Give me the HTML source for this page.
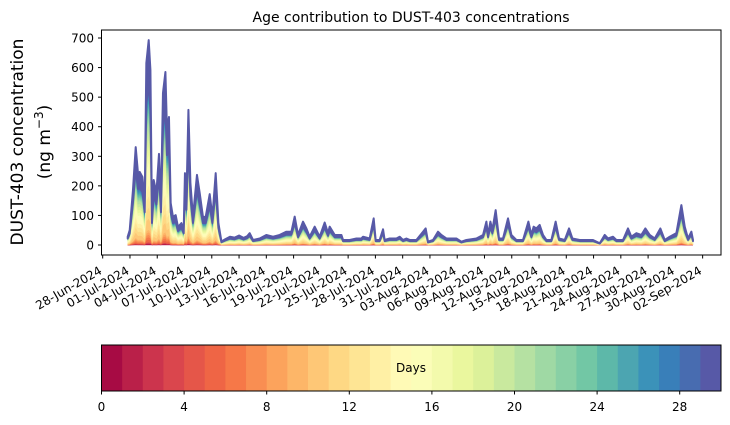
<!DOCTYPE html>
<html><head><meta charset="utf-8"><style>
body{margin:0;background:#fff;}
svg{display:block;font-family:"DejaVu Sans","Liberation Sans",sans-serif;}
</style></head><body>
<svg id="chart" width="730" height="425" viewBox="0 0 730 425">
<text x="411" y="22" text-anchor="middle" font-size="14">Age contribution to DUST-403 concentrations</text>
<g>
<text transform="translate(23,142) rotate(-90)" text-anchor="middle" font-size="17">DUST-403 concentration</text>
<text transform="translate(50,142) rotate(-90)" text-anchor="middle" font-size="17">(ng m<tspan dy="-7" font-size="12">−3</tspan><tspan dy="7">)</tspan></text>
</g>
<g id="areas"></g>
<g id="yaxis"></g>
<g id="xaxis"></g>
<rect x="101.5" y="30" width="619.5" height="225" fill="none" stroke="#000" stroke-width="1"/>
<g id="cbar"></g>
</svg>
<script>
// days since 28-Jun-2024
const times = [2.75,2.97,3.33,3.63,3.88,4.07,4.37,4.62,4.80,5.06,5.25,5.42,5.61,5.91,6.19,6.41,6.63,6.90,7.07,7.29,7.48,7.73,8.03,8.28,8.66,8.91,9.05,9.21,9.43,9.65,9.93,10.37,10.67,11.03,11.33,11.77,12.07,12.43,12.73,13.06,
13.5,14.0,14.5,15.0,15.5,15.9,
16.17,16.54,17.27,18.0,18.74,19.47,20.21,20.76,21.12,21.49,22.04,22.41,22.77,23.32,23.87,24.42,24.79,24.97,25.52,26.26,26.44,27.17,27.91,28.46,28.64,29.37,29.81,30.03,30.47,30.84,31.02,31.57,32.31,32.67,33.04,33.41,33.77,34.51,35.24,35.53,35.79,36.34,36.89,37.26,37.81,38.91,39.46,40.01,41.11,41.84,42.21,42.39,42.65,42.87,43.23,43.6,44.04,44.59,44.96,45.51,46.24,46.83,47.16,47.41,47.71,48.07,48.44,48.81,49.36,49.83,50.2,50.83,51.3,51.67,52.48,53.21,53.94,54.68,55.23,55.59,56.14,56.51,57.24,57.79,58.16,58.71,59.26,59.7,60.18,60.73,61.35,61.83,62.38,63.11,63.66,64.03,64.39,64.76,64.94];
const totals = [28,50,186,331,243,247,230,142,615,693,592,95,220,176,308,142,514,585,389,433,142,95,101,61,74,51,243,152,457,210,95,237,176,95,95,172,95,243,74,12,
20,28,25,32,24,30,
40,17,22,34,28,34,45,45,96,34,79,56,28,62,28,76,40,62,34,34,17,17,22,22,28,22,90,17,17,53,17,22,22,28,17,22,17,17,45,56,11,17,45,34,22,22,11,17,22,34,79,34,79,51,118,22,22,90,34,17,17,79,34,62,56,68,34,17,17,79,22,17,56,22,17,17,17,6,34,22,28,17,17,56,28,40,34,56,34,22,56,17,28,40,135,62,22,45,17];
const bandFractions = [0.003,0.003,0.003,0.003,0.003,0.012,0.012,0.012,0.012,0.012,0.055,0.055,0.055,0.055,0.055,0.055,0.04,0.04,0.04,0.04,0.04,0.022,0.022,0.022,0.022,0.022,0.022,0.022,0.022,0.219];
const yTicks = [0,100,200,300,400,500,600,700];
const xTickLabels = ["28-Jun-2024","01-Jul-2024","04-Jul-2024","07-Jul-2024","10-Jul-2024","13-Jul-2024","16-Jul-2024","19-Jul-2024","22-Jul-2024","25-Jul-2024","28-Jul-2024","31-Jul-2024","03-Aug-2024","06-Aug-2024","09-Aug-2024","12-Aug-2024","15-Aug-2024","18-Aug-2024","21-Aug-2024","24-Aug-2024","27-Aug-2024","30-Aug-2024","02-Sep-2024"];
const cbarTicks = [0,4,8,12,16,20,24,28];

const NS="http://www.w3.org/2000/svg";
const n = Math.min(times.length, totals.length);
const xS = d => 102.7 + d*9.09;
const yS = v => 245 - v*0.2957;
const spec = ["#9e0142","#d53e4f","#f46d43","#fdae61","#fee08b","#ffffbf","#e6f598","#abdda4","#66c2a5","#3288bd","#5e4fa2"];
function cmap(t){const p=t*10,i=Math.min(9,Math.floor(p)),f=p-i;
 const a=spec[i],b=spec[i+1];const c=k=>Math.round(parseInt(a.substr(k,2),16)*(1-f)+parseInt(b.substr(k,2),16)*f);
 return `rgb(${c(1)},${c(3)},${c(5)})`;}
function mk(tag,attrs,parent){const e=document.createElementNS(NS,tag);for(const k in attrs)e.setAttribute(k,attrs[k]);parent.appendChild(e);return e;}

const areas=document.getElementById('areas');
let lower=new Array(n).fill(0);
bandFractions.forEach((fr,b)=>{
  const upper=lower.map((l,i)=>l+totals[i]*fr);
  let d='';
  for(let i=0;i<n;i++) d+=(i?'L':'M')+xS(times[i]).toFixed(2)+','+yS(upper[i]).toFixed(2);
  for(let i=n-1;i>=0;i--) d+='L'+xS(times[i]).toFixed(2)+','+yS(lower[i]).toFixed(2);
  const p=mk('path',{d:d+'Z',fill:cmap((b+0.5)/30),stroke:cmap((b+0.5)/30),'stroke-width':b===29?2:0.4,'stroke-linejoin':'round'},areas);
  
  
  lower=upper;
});

const ya=document.getElementById('yaxis');
yTicks.forEach(v=>{
  mk('line',{x1:98,x2:101.5,y1:yS(v),y2:yS(v),stroke:'#000'},ya);
  const t=mk('text',{x:94,y:yS(v)+4.5,'text-anchor':'end','font-size':12},ya);t.textContent=v;
  
  
});
const xa=document.getElementById('xaxis');
xTickLabels.forEach((lab,i)=>{
  const x=xS(i*3);
  mk('line',{x1:x,x2:x,y1:255,y2:258.5,stroke:'#000'},xa);
  const t=mk('text',{transform:`translate(${x},273) rotate(-30)`,'text-anchor':'end','font-size':12},xa);t.textContent=lab;
  
  
});
const cb=document.getElementById('cbar');
const cx=v=>101.5+v*(619.5/30);
for(let i=0;i<30;i++){
  const r=mk('rect',{x:cx(i),y:345,width:619.5/30+0.5,height:46,fill:cmap((i+0.5)/30)},cb);
  
  
}
mk('rect',{x:101.5,y:345,width:619.5,height:46,fill:'none',stroke:'#000'},cb);
const dl=mk('text',{x:411,y:372,'text-anchor':'middle','font-size':12},cb);dl.textContent='Days';


cbarTicks.forEach(v=>{
  mk('line',{x1:cx(v),x2:cx(v),y1:391,y2:394.5,stroke:'#000'},cb);
  const t=mk('text',{x:cx(v),y:411,'text-anchor':'middle','font-size':12},cb);t.textContent=v;
  
  
});
</script>
</body></html>
